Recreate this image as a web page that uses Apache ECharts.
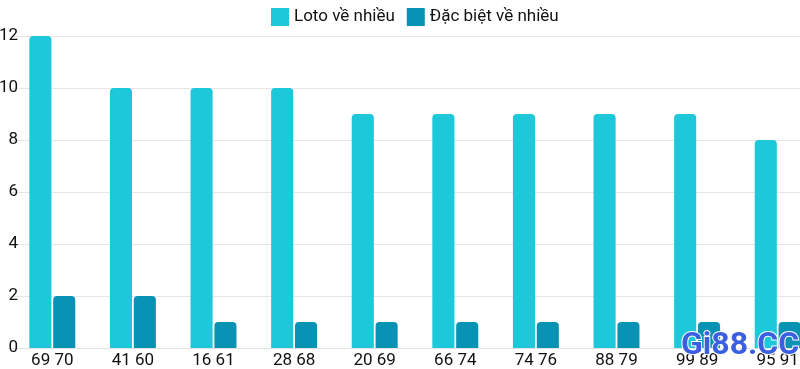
<!DOCTYPE html>
<html><head><meta charset="utf-8">
<script src="https://cdn.jsdelivr.net/npm/echarts@6/dist/echarts.min.js"></script>
<style>html,body{margin:0;padding:0;background:#fff}#c{width:800px;height:369px}</style>
</head><body><div id="c"></div>
<script>
const categories = ["69 70","41 60","16 61","28 68","20 69","66 74","74 76","88 79","99 89","95 91"];
const lotoValues = [12,10,10,10,9,9,9,9,9,8];
const dacBietValues = [2,2,1,1,1,1,1,1,1,1];
const seriesNames = ["Loto về nhiều","Đặc biệt về nhiều"];

const chart = echarts.init(document.getElementById('c'), null, {renderer:'canvas'});
chart.setOption({
  animation:false,
  textStyle:{fontFamily:'Roboto'},
  legend:{
    top:8, left:271, padding:0, itemWidth:18, itemHeight:18, itemGap:12, itemTextGap:4,
    textStyle:{fontSize:17, color:'#111', fontFamily:'Roboto'},
    icon:'rect',
    data:seriesNames
  },
  grid:{left:12, width:806, top:36, bottom:21, containLabel:false, outerBoundsMode:'none'},
  xAxis:{
    type:'category', data:categories,
    axisTick:{show:false},
    axisLine:{lineStyle:{color:'#e0e0e0'}},
    axisLabel:{fontSize:17, color:'#111', margin:4, fontFamily:'Roboto'}
  },
  yAxis:{
    type:'value', min:0, max:12, interval:2,
    axisLine:{show:false}, axisTick:{show:false},
    axisLabel:{fontSize:17, color:'#111', margin:-6, fontFamily:'Roboto'},
    splitLine:{lineStyle:{color:'#e6e6e6'}}
  },
  series:[
    {name:seriesNames[0], type:'bar', data:lotoValues, barGap:'8%', barCategoryGap:'43%',
     itemStyle:{color:'#1cc8da', borderRadius:[4,4,0,0]}},
    {name:seriesNames[1], type:'bar', data:dacBietValues,
     itemStyle:{color:'#0892b4', borderRadius:[4,4,0,0]}}
  ],
  graphic:[{type:'text', left:680, top:329, z:100,
    style:{text:'Gi88.CC', fontSize:32, fontWeight:'bold', fontFamily:'Roboto', fill:'#3a5fe0', stroke:'#ffffff', lineWidth:2}}]
});
</script></body></html>
